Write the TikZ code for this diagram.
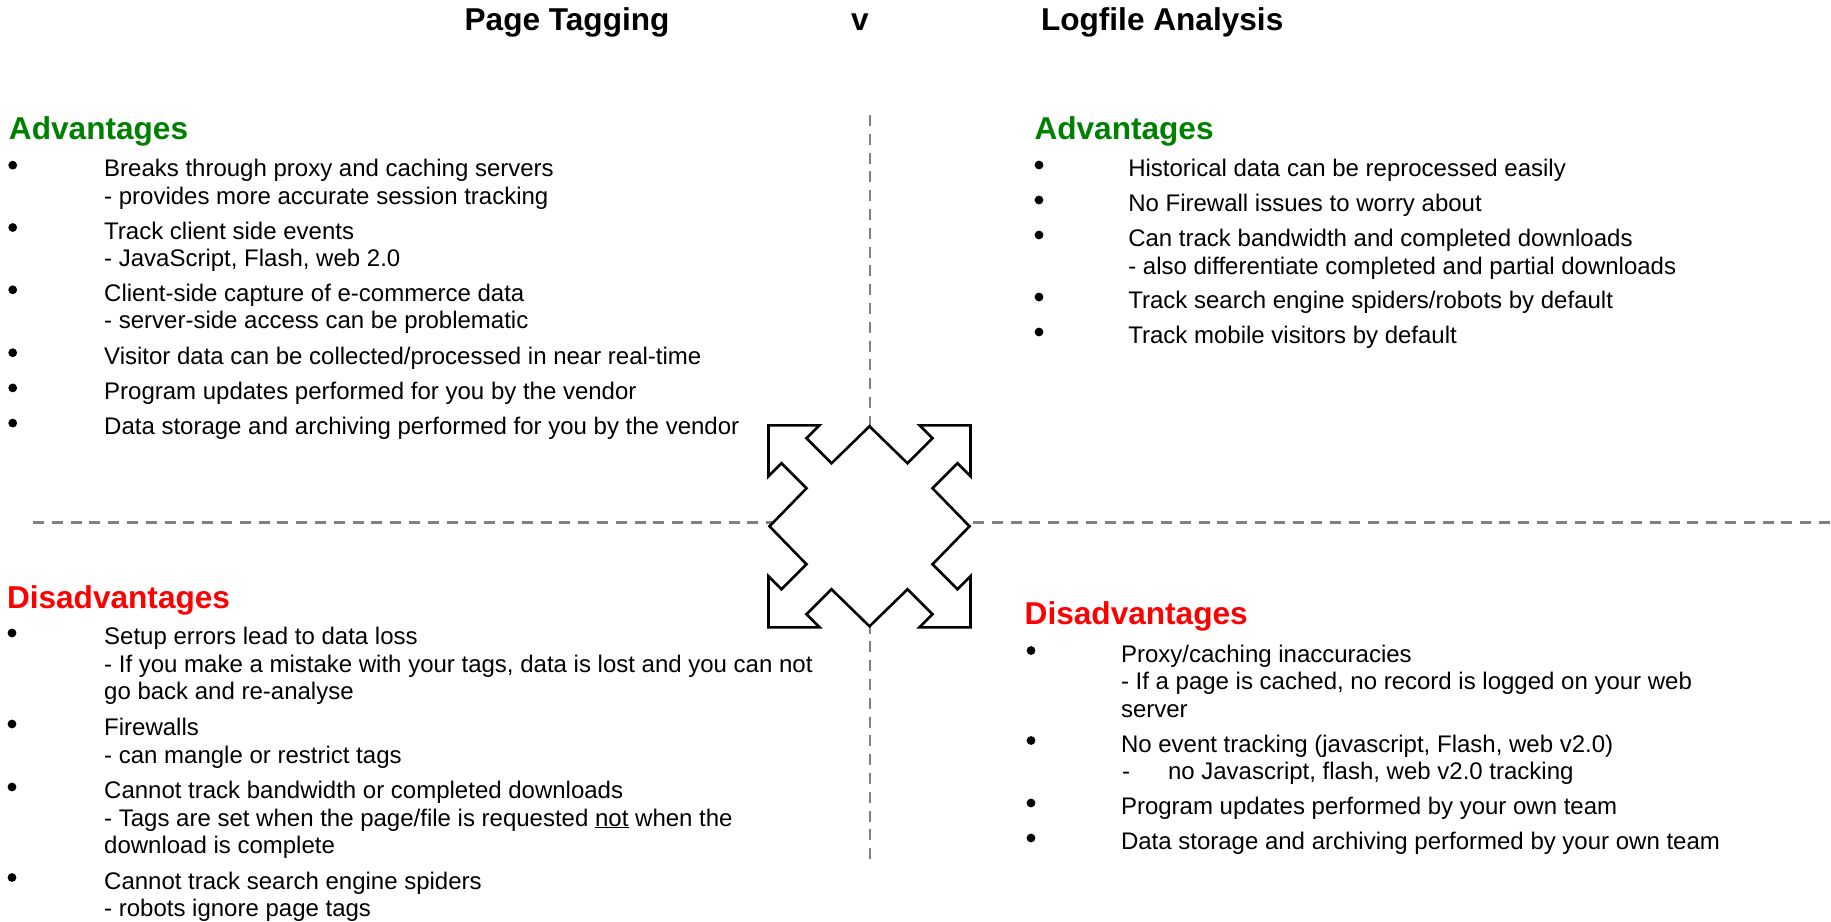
\documentclass[tikz,border=0pt]{standalone}
\usepackage{fontspec}
\setmainfont{Liberation Sans}
\definecolor{hdgreen}{RGB}{0,128,0}
\definecolor{hdred}{RGB}{255,0,0}
\definecolor{divgray}{RGB}{128,128,128}
\begin{document}
\begin{tikzpicture}[x=1pt,y=-1pt,
  txt/.style={anchor=base west, inner sep=0pt, outer sep=0pt, font=\fontsize{24}{28}\selectfont},
  hd/.style={anchor=base west, inner sep=0pt, outer sep=0pt, font=\fontsize{31.6}{36}\selectfont\bfseries},
  bul/.style={circle, fill=black, inner sep=0pt, minimum size=8.8pt},
  divider/.style={draw=divgray, line width=2.7pt, dash pattern=on 11pt off 7.8pt},
  quad/.style={draw=black, fill=white, line width=2.6pt, miter limit=10}]
\useasboundingbox (0,0) rectangle (1831,921);
% dividers
\coordinate (vt) at (870,115);
\coordinate (vb) at (870,864);
\coordinate (hl) at (33,522.3);
\coordinate (hr) at (1831,522.3);
\draw[divider] (vt) -- (vb);
\draw[divider] (hl) -- (hr);
% central four-way arrow
\begin{scope}[shift={(869.5,526.3)}]
\draw[quad] (-101,-101) -- (-50,-101) -- (-63,-88) -- (-38,-63) -- (0,-100) -- (38,-63) -- (63,-88) -- (50,-101) -- (101,-101)
  -- (101,-50) -- (88,-63) -- (63,-38) -- (100,0) -- (63,38) -- (88,63) -- (101,50) -- (101,101)
  -- (50,101) -- (63,88) -- (38,63) -- (0,100) -- (-38,63) -- (-63,88) -- (-50,101) -- (-101,101)
  -- (-101,50) -- (-88,63) -- (-63,38) -- (-100,0) -- (-63,-38) -- (-88,-63) -- (-101,-50) -- cycle;
\end{scope}
% titles
\node[hd] (t1) at (464.6,30.5) {Page Tagging};
\node[hd] (t2) at (851,30.5) {v};
\node[hd] (t3) at (1041,30.5) {Logfile Analysis};
% top-left
\node[hd, text=hdgreen] (tlh) at (9,139.8) {Advantages};
\node[txt] (tl1) at (104.2,176.7) {Breaks through proxy and caching servers};
\node[txt] (tl2) at (104.2,204.2) {- provides more accurate session tracking};
\node[txt] (tl3) at (104.2,239) {Track client side events};
\node[txt] (tl4) at (104.2,266.5) {- JavaScript, Flash, web 2.0};
\node[txt] (tl5) at (104.2,301.3) {Client-side capture of e-commerce data};
\node[txt] (tl6) at (104.2,328.8) {- server-side access can be problematic};
\node[txt] (tl7) at (104.2,364.2) {Visitor data can be collected/processed in near real-time};
\node[txt] (tl8) at (104.2,399.4) {Program updates performed for you by the vendor};
\node[txt] (tl9) at (104.2,434.6) {Data storage and archiving performed for you by the vendor};
\foreach \y [count=\i] in {176.7,239,301.3,364.2,399.4,434.6}
  \node[bul] (tlb\i) at (12.7,\y-11.5) {};
% top-right
\node[hd, text=hdgreen] (trh) at (1034.5,139.8) {Advantages};
\node[txt] (tr1) at (1128.3,176.5) {Historical data can be reprocessed easily};
\node[txt] (tr2) at (1128.3,211.5) {No Firewall issues to worry about};
\node[txt] (tr3) at (1128.3,246.5) {Can track bandwidth and completed downloads};
\node[txt] (tr4) at (1128.3,274) {- also differentiate completed and partial downloads};
\node[txt] (tr5) at (1128.3,308.5) {Track search engine spiders/robots by default};
\node[txt] (tr6) at (1128.3,343.5) {Track mobile visitors by default};
\foreach \y [count=\i] in {176.5,211.5,246.5,308.5,343.5}
  \node[bul] (trb\i) at (1039,\y-11.5) {};
% bottom-left
\node[hd, text=hdred] (blh) at (7,608) {Disadvantages};
\node[txt] (bl1) at (104.2,644.5) {Setup errors lead to data loss};
\node[txt] (bl2) at (104.2,672) {- If you make a mistake with your tags, data is lost and you can not};
\node[txt] (bl3) at (104.2,699.5) {go back and re-analyse};
\node[txt] (bl4) at (104.2,735.5) {Firewalls};
\node[txt] (bl5) at (104.2,763) {- can mangle or restrict tags};
\node[txt] (bl6) at (104.2,798.5) {Cannot track bandwidth or completed downloads};
\node[txt] (bl7) at (104.2,826) {- Tags are set when the page/file is requested \underline{not} when the};
\node[txt] (bl8) at (104.2,853.5) {download is complete};
\node[txt] (bl9) at (104.2,889) {Cannot track search engine spiders};
\node[txt] (bl10) at (104.2,916.5) {- robots ignore page tags};
\foreach \y [count=\i] in {644.5,735.5,798.5,889}
  \node[bul] (blb\i) at (12,\y-11.5) {};
% bottom-right
\node[hd, text=hdred] (brh) at (1024.7,624.6) {Disadvantages};
\node[txt] (br1) at (1121,662) {Proxy/caching inaccuracies};
\node[txt] (br2) at (1121,689.5) {- If a page is cached, no record is logged on your web};
\node[txt] (br3) at (1121,717) {server};
\node[txt] (br4) at (1121,752) {No event tracking (javascript, Flash, web v2.0)};
\node[txt] (br5a) at (1122,779.5) {-};
\node[txt] (br5) at (1168,779.5) {no Javascript, flash, web v2.0 tracking};
\node[txt] (br6) at (1121,814.5) {Program updates performed by your own team};
\node[txt] (br7) at (1121,849.5) {Data storage and archiving performed by your own team};
\foreach \y [count=\i] in {662,752,814.5,849.5}
  \node[bul] (brb\i) at (1031,\y-11.5) {};
\end{tikzpicture}
\end{document}
